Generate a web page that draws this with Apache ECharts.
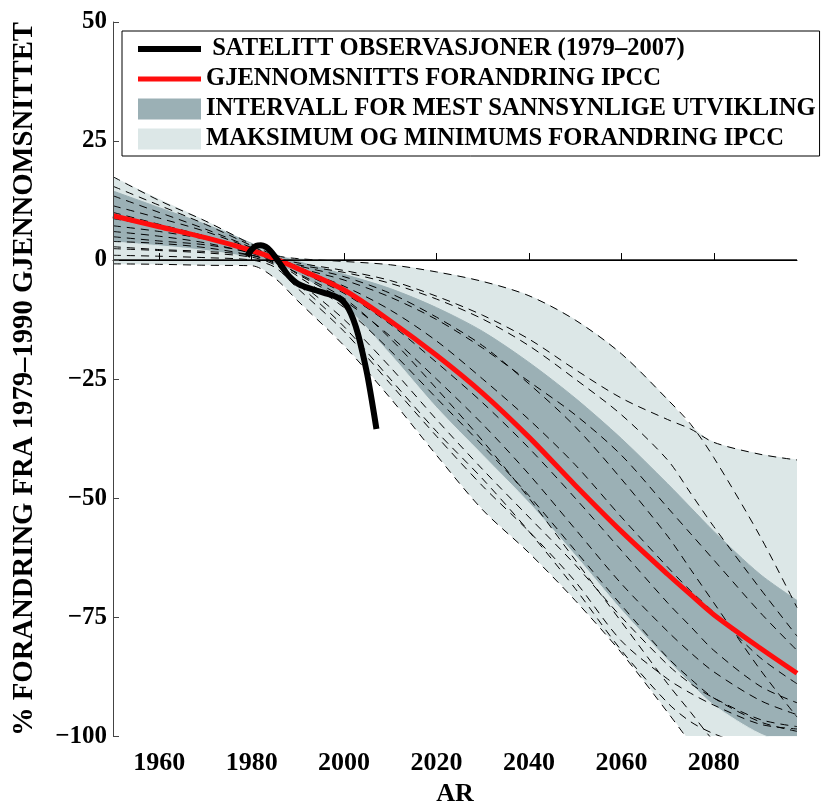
<!DOCTYPE html>
<html><head><meta charset="utf-8">
<script src="https://cdn.jsdelivr.net/npm/echarts@6/dist/echarts.min.js"></script>
<style>html,body{margin:0;padding:0;background:#fff}#c{width:824px;height:812px}</style>
</head><body><div id="c"></div>
<script>
// ---- data ----
const years = [1950,1960,1970,1980,1985,1990,2000,2010,2020,2030,2040,2050,2060,2070,2075,2080,2090,2098];

const lightUpper = [17.4,12.7,8.2,3.3,1.0,0.3,-0.3,-1.0,-2.5,-4.5,-7.5,-12.6,-19.7,-29.3,-34.8,-38.3,-40.8,-42];
const lightLower = [-1.0,-1.0,-1.2,-1.2,-3.8,-8.6,-18,-29,-41,-52.5,-61.5,-71.5,-82.5,-95,-101.5,-108,-118,-125];
const darkUpper  = [14.5,11.0,7.5,3.5,1.2,-0.3,-3.0,-6.0,-10.0,-15.0,-21.5,-29.0,-37.5,-47.0,-52,-57.0,-66.0,-71.5];
const darkLower  = [3.8,3.0,2.0,0.5,-0.8,-3.0,-9.5,-19.8,-31.0,-41.0,-51.0,-62.0,-73.5,-84.0,-89.0,-93.5,-99.5,-102];
const meanChange = [9.3,7.0,4.7,2.0,0.3,-1.8,-6.3,-12.8,-20.0,-28.0,-37.2,-47.3,-57.0,-66.0,-70.3,-74.5,-81.5,-86.8];

const obsYears  = [1979,1980,1981,1982,1983,1984,1985,1986,1987,1988,1990,1992,1994,1996,1998,1999,2000,2001,2002,2003,2004,2005,2006,2007];
const obsValues = [0.8,2.2,3.0,3.1,2.8,2.0,0.8,-0.6,-2.0,-3.3,-5.0,-5.8,-6.4,-7.0,-7.6,-8.1,-8.9,-10.3,-12.5,-15.5,-19.5,-24.0,-29.5,-35.5];

const zeroYears = [1950,2098];
const zeroValues = [0,0];

const model1  = [17.5,12.5,8.2,3.3,1.0,0.3,-0.3,-1.0,-2.5,-4.5,-7.5,-12.6,-19.7,-29.3,-34.5,-41.5,-58,-73];
const model2  = [15.5,11.5,7.5,3.0,0.6,-0.6,-2.2,-4.3,-7.6,-11.6,-16.6,-23.0,-29.0,-33.5,-35.5,-38.3,-40.8,-42];
const model3  = [13.5,10.0,6.5,2.6,0.4,-1.0,-2.6,-4.9,-8.2,-12.4,-18.0,-25.0,-32.5,-42.0,-49.0,-56.0,-69.0,-79.0];
const model4  = [11.4,8.8,6.0,2.4,0.3,-1.6,-4.2,-7.8,-12.5,-18.5,-25.5,-32.5,-41.0,-52.0,-57.5,-63.0,-74.0,-82.0];
const model5  = [8.7,7.0,5.0,2.0,0.0,-1.8,-5.5,-10.5,-17.0,-25.0,-33.5,-43.0,-54.0,-64.5,-69.5,-74.0,-83.5,-89.0];
const model6  = [7.2,6.0,4.4,2.2,0.5,-2.2,-7.0,-13.5,-21.5,-30.0,-39.5,-50.0,-61.0,-72.0,-77.0,-82.0,-89.5,-93.0];
const model7  = [4.9,4.0,3.2,1.6,0.0,-3.0,-8.5,-16.0,-25.0,-34.5,-45.0,-56.5,-68.0,-78.0,-82.5,-86.5,-92.5,-95.5];
const model8  = [3.9,3.5,2.6,1.0,-0.5,-3.4,-10.0,-19.0,-29.0,-39.0,-49.5,-61.0,-72.5,-83.5,-88.0,-92.0,-97.0,-99.0];
const model9  = [2.4,2.0,1.5,0.6,-1.0,-4.5,-12.5,-22.5,-33.5,-44.0,-54.0,-64.0,-75.0,-85.0,-89.0,-92.0,-96.5,-98.0];
const model10 = [1.0,0.8,0.5,0.0,-1.5,-6.0,-15.0,-26.0,-37.0,-47.5,-57.0,-67.5,-80.0,-88.0,-91.0,-93.5,-97.5,-98.5];
const model11 = [-0.8,-0.9,-1.1,-1.2,-3.8,-8.6,-18.0,-29.0,-41.0,-52.5,-61.5,-71.5,-82.5,-95.0,-101.5,-108,-118,-125];
const model12 = [10.0,7.5,5.0,1.8,0.2,-1.2,-3.5,-7.0,-12.0,-18.0,-26.0,-35.0,-46.0,-58.0,-65.0,-72.0,-86.0,-96.0];
const model13 = [6.0,5.0,3.6,1.4,-0.3,-2.8,-8.0,-16.5,-27.0,-38.0,-50.0,-63.0,-76.0,-89.0,-95.0,-101,-110,-115];
const model14 = [2.8,2.2,1.8,1.0,-0.8,-5.0,-14.0,-25.0,-36.0,-46.0,-57.0,-69.0,-82.0,-93.0,-97.0,-99.5,-103,-105];
const modelLines = [model1,model2,model3,model4,model5,model6,model7,model8,model9,model10,model11,model12,model13,model14];

const obsName   = 'SATELITT OBSERVASJONER (1979–2007)';
const meanName  = 'GJENNOMSNITTS FORANDRING IPCC';
const darkName  = 'INTERVALL FOR MEST SANNSYNLIGE UTVIKLING';
const lightName = 'MAKSIMUM OG MINIMUMS FORANDRING IPCC';
const xAxisTitle = 'AR';
const yAxisTitle = '% FORANDRING FRA 1979–1990 GJENNOMSNITTET';

// ---- chart ----
const FONT = "'Liberation Serif','Times New Roman',serif";
const LIGHT = '#dce7e7';
const DARK = '#9bb0b5';
const RED = '#ff0d0d';
const pairs = (xs, vs) => xs.map((x, i) => [x, vs[i]]);

// band fills: each edge filled down to the axis start, painted in order
function fillSeries(name, vals, color) {
  return {type:'line', name:name, data: pairs(years, vals), symbol:'none', smooth:0.3, silent:true, z:1,
    lineStyle:{color:color, width:1}, itemStyle:{color:color},
    areaStyle:{color:color, opacity:1, origin:'start'}};
}
const series = [];
series.push(fillSeries(lightName, lightUpper, LIGHT));
series.push(fillSeries(darkName, darkUpper, DARK));
series.push(fillSeries('darkLowerEdge', darkLower, LIGHT));
series.push(fillSeries('lightLowerEdge', lightLower, '#ffffff'));
modelLines.forEach((m, k) => {
  series.push({type:'line', name:'model' + (k+1), data: pairs(years, m), symbol:'none', smooth:0.3, silent:true, z:2,
    lineStyle:{color:'#000', width:1, type:[8,6]}});
});
series.push({type:'line', name:'zero', data: pairs(zeroYears, zeroValues), symbol:'none', silent:true, z:3,
  lineStyle:{color:'#111', width:1.5}});
series.push({type:'line', name: meanName, data: pairs(years, meanChange), symbol:'none', smooth:0.3, silent:true, z:4,
  lineStyle:{color:RED, width:5}, itemStyle:{color:RED}});
series.push({type:'line', name: obsName, data: pairs(obsYears, obsValues), symbol:'none', smooth:0.3, silent:true, z:5,
  lineStyle:{color:'#000', width:6}, itemStyle:{color:'#000'}});

const chart = echarts.init(document.getElementById('c'), null, {renderer:'canvas'});
chart.setOption({
  animation:false,
  backgroundColor:'#fff',
  grid:{left:113, right:27, top:22, bottom:71, containLabel:false},
  legend:{
    left:122, top:31, orient:'vertical', selectedMode:false,
    padding:[5,4,4,13], itemGap:4, itemWidth:63, itemHeight:21,
    borderColor:'#000', borderWidth:1, backgroundColor:'#fff',
    textStyle:{fontFamily:FONT, fontWeight:'bold', fontSize:24.6, color:'#000', lineHeight:26},
    formatter: n => n === obsName ? ' ' + n : n,
    data:[
      {name:obsName, itemStyle:{opacity:0}, lineStyle:{color:'#000', width:6}},
      {name:meanName, itemStyle:{opacity:0}, lineStyle:{color:RED, width:5}},
      {name:darkName, icon:'rect', itemStyle:{color:DARK}},
      {name:lightName, icon:'rect', itemStyle:{color:LIGHT}}
    ]
  },
  xAxis:{
    type:'value', min:1950, max:2098, splitNumber:7, minInterval:20, maxInterval:20, z:6,
    axisLine:{show:true, lineStyle:{color:'#000', width:1}},
    axisTick:{show:true, inside:true, length:7, lineStyle:{color:'#000'}},
    axisLabel:{showMinLabel:false, showMaxLabel:false, margin:14, color:'#000', fontFamily:FONT, fontWeight:'bold', fontSize:26,
      formatter: v => (v % 20 === 0 ? String(v) : '')},
    splitLine:{show:false},
    name: xAxisTitle, nameLocation:'middle', nameGap:42,
    nameTextStyle:{color:'#000', fontFamily:FONT, fontWeight:'bold', fontSize:26}
  },
  yAxis:{
    type:'value', min:-100, max:50, interval:25, z:6,
    axisLine:{show:true, lineStyle:{color:'#444', width:1}},
    axisTick:{show:true, inside:true, length:6, lineStyle:{color:'#444'}},
    axisLabel:{margin:6, color:'#000', fontFamily:FONT, fontWeight:'bold', fontSize:25,
      formatter: v => String(v).replace('-', '−')},
    splitLine:{show:false},
    name: yAxisTitle, nameLocation:'middle', nameGap:74, nameRotate:90,
    nameTextStyle:{color:'#000', fontFamily:FONT, fontWeight:'bold', fontSize:28.7}
  },
  series: series
});
</script></body></html>
